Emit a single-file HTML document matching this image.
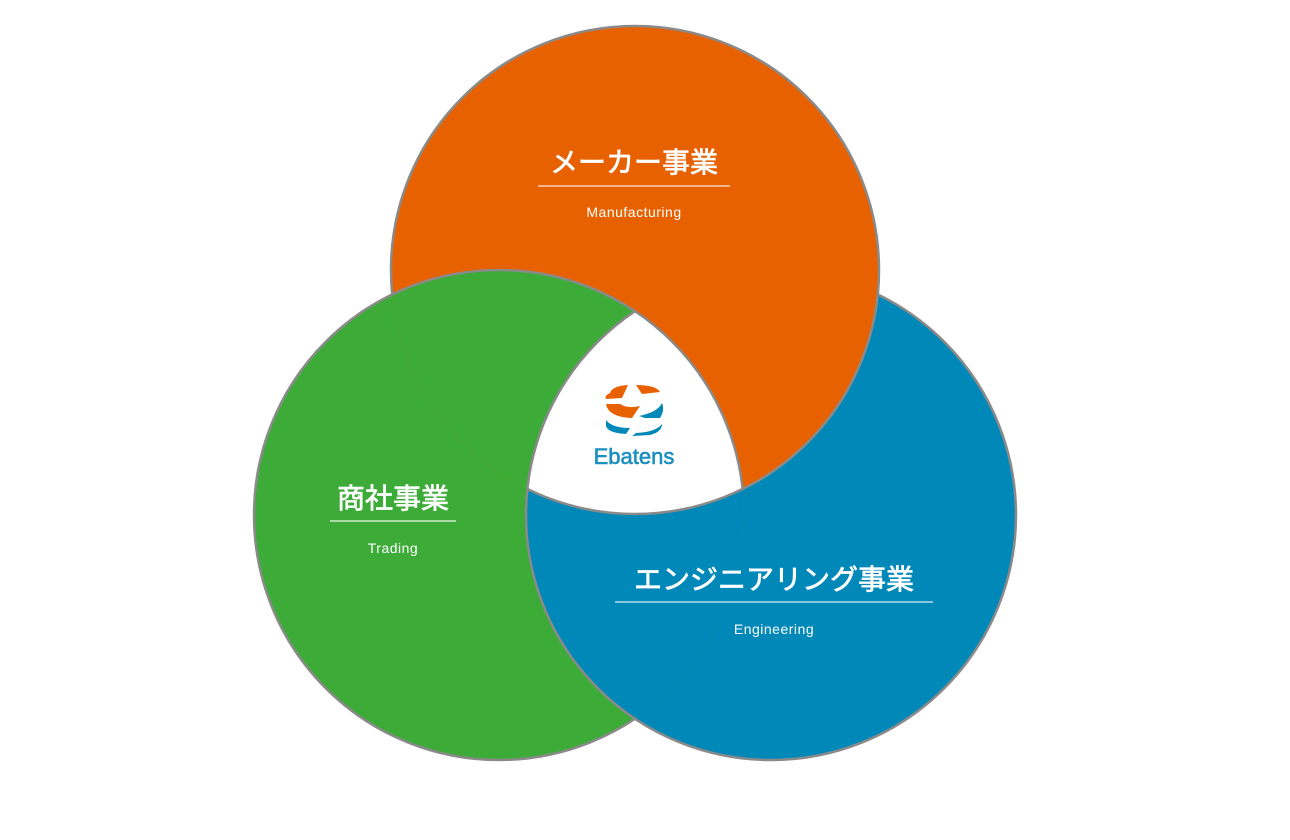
<!DOCTYPE html>
<html><head><meta charset="utf-8"><style>
html,body{margin:0;padding:0;background:#fff;width:1290px;height:840px;overflow:hidden}
svg text{font-family:"Liberation Sans","Noto Sans CJK JP",sans-serif;fill:#fff}
</style></head><body>
<svg width="1290" height="840" viewBox="0 0 1290 840" xmlns="http://www.w3.org/2000/svg">
<defs>
<clipPath id="cO"><circle cx="635" cy="270" r="244"/></clipPath>
<clipPath id="cG"><circle cx="499" cy="515" r="245"/></clipPath>
<clipPath id="cB"><circle cx="771" cy="515" r="245"/></clipPath>
<mask id="nG" maskUnits="userSpaceOnUse" x="0" y="0" width="1290" height="840"><rect width="1290" height="840" fill="#fff"/><circle cx="499" cy="515" r="243.5" fill="#000"/></mask>
<mask id="nB" maskUnits="userSpaceOnUse" x="0" y="0" width="1290" height="840"><rect width="1290" height="840" fill="#fff"/><circle cx="771" cy="515" r="243.5" fill="#000"/></mask>
<mask id="nO" maskUnits="userSpaceOnUse" x="0" y="0" width="1290" height="840"><rect width="1290" height="840" fill="#fff"/><circle cx="635" cy="270" r="242.5" fill="#000"/></mask>
</defs>
<circle cx="771" cy="515" r="245" fill="#0088b9"/>
<circle cx="499" cy="515" r="245" fill="#3cab37"/>
<circle cx="635" cy="270" r="244" fill="#e86100"/>
<circle cx="499" cy="515" r="245" fill="#3cab37" clip-path="url(#cO)"/>
<circle cx="771" cy="515" r="245" fill="#0088b9" clip-path="url(#cG)"/>
<g clip-path="url(#cG)"><g clip-path="url(#cB)"><circle cx="635" cy="270" r="244" fill="#fff"/></g></g>
<g fill="none" stroke="#8a8a8a" stroke-width="2.5">
<circle cx="635" cy="270" r="244" mask="url(#nG)"/>
<circle cx="499" cy="515" r="245" mask="url(#nB)"/>
<circle cx="771" cy="515" r="245" mask="url(#nO)"/>
<g clip-path="url(#cG)"><circle cx="635" cy="270" r="244" clip-path="url(#cB)"/></g>
<g clip-path="url(#cO)"><circle cx="499" cy="515" r="245" clip-path="url(#cB)"/></g>
<g clip-path="url(#cO)"><circle cx="771" cy="515" r="245" clip-path="url(#cG)"/></g>
</g>
<!-- logo -->
<g>
<path d="M610 393 Q612 386 628 385 L622 398 L606 399 Q604 396 610 393Z" fill="#e86100"/>
<path d="M636 385 Q656 385 660 392 L642 394 Z" fill="#e86100"/>
<path d="M606 404 L620 404 Q628 409 640 406 L632 418 Q608 417 606 404Z" fill="#e86100"/>
<path d="M639 416 Q658 412 662 403 Q665 410 660 418 L645 418 Z" fill="#0088b9"/>
<path d="M606 420 Q612 428 630 428 L626 434 Q608 433 606 426Z" fill="#0088b9"/>
<path d="M636 433 Q656 432 662 424 Q662 432 650 435 L632 436Z" fill="#0088b9"/>
</g>
<text x="634" y="464" font-size="22" text-anchor="middle" style="fill:#1a8fc0;stroke:#1a8fc0;stroke-width:0.6">Ebatens</text>
<!-- labels -->
<g style="stroke:#fff;stroke-width:0.7">
<text x="634" y="172" font-size="28" text-anchor="middle">メーカー事業</text>
<text x="393" y="508" font-size="28" text-anchor="middle">商社事業</text>
<text x="774" y="589" font-size="28" text-anchor="middle">エンジニアリング事業</text>
</g>
<rect x="538" y="185" width="192" height="2" fill="#f4b58a"/>
<text x="634" y="217" font-size="14" text-anchor="middle" letter-spacing="0.5">Manufacturing</text>
<rect x="330" y="520" width="126" height="2" fill="#a9d9a5"/>
<text x="393" y="553" font-size="14" text-anchor="middle" letter-spacing="0.5">Trading</text>
<rect x="615" y="601" width="318" height="2" fill="#8ac6dc"/>
<text x="774" y="634" font-size="14" text-anchor="middle" letter-spacing="0.5">Engineering</text>
</svg>
</body></html>
